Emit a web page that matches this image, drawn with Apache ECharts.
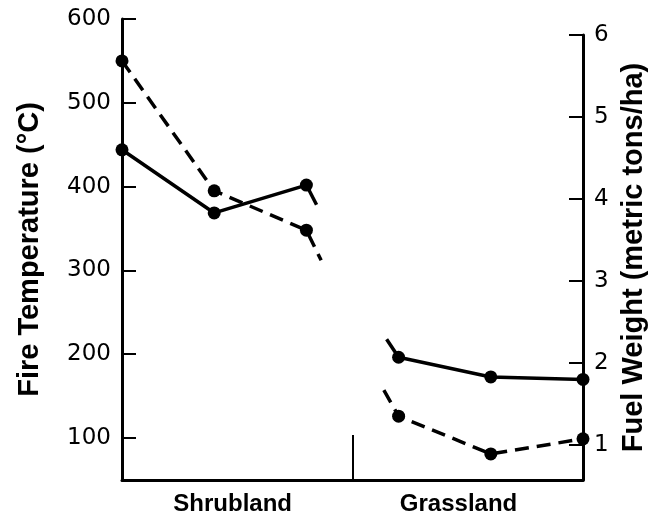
<!DOCTYPE html>
<html>
<head>
<meta charset="utf-8">
<script src="https://cdn.jsdelivr.net/npm/echarts@6/dist/echarts.min.js"></script>
<style>
html,body{margin:0;padding:0;background:#fff;}
#chart{width:662px;height:523px;}
</style>
</head>
<body>
<div id="chart"></div>
<script>
// ---- data ----
const categories = ['Shrubland', 'Grassland'];
const siteX = [0, 1, 2, 3, 4, 5];                        // three sites per vegetation type
const fireTemperature = [550, 395, 348, 126, 81, 99];    // °C (dashed)
const fuelWeight = [4.6, 3.83, 4.17, 2.07, 1.83, 1.80];  // metric tons/ha (solid)
const fireTempBreaks = [[2.16, 312], [2.84, 157]];        // cut-off line ends
const fuelWeightBreaks = [[2.11, 3.93], [2.87, 2.29]];
const tempRange = [100, 600, 100];   // first tick, last tick, step
const fuelRange = [1, 6, 1];

// ---- build series data ----
function buildData(vals, breaks) {
  const d = [];
  for (let i = 0; i < 3; i++) d.push([siteX[i], vals[i]]);
  d.push({ value: breaks[0], symbol: 'none' });
  d.push([2.5, '-']);
  d.push({ value: breaks[1], symbol: 'none' });
  for (let i = 3; i < 6; i++) d.push([siteX[i], vals[i]]);
  return d;
}

const labelPos = [1.2, 3.65];
const dividerPos = [2.5];

const chart = echarts.init(document.getElementById('chart'), null, { renderer: 'canvas' });
const black = '#000';
const tickFont = { color: black, fontFamily: 'DejaVu Sans', fontSize: 23 };
const nameFont = { color: black, fontFamily: 'Liberation Sans', fontWeight: 'bold', fontSize: 29 };
function lineOnly() {
  return {
    splitLine: { show: false }, axisTick: { show: false }, axisLabel: { show: false },
    axisLine: { show: true, onZero: false, lineStyle: { color: black, width: 3 } }
  };
}
function ticksOnly() {
  return {
    splitLine: { show: false },
    axisLine: { show: false, onZero: false },
    axisTick: { show: true, inside: true, length: 14, lineStyle: { color: black, width: 2 } },
    axisLabel: Object.assign({ margin: 11 }, tickFont)
  };
}
const hiddenX = (g) => ({ type: 'value', gridIndex: g, min: 0, max: 5, show: false, axisLine: { onZero: false } });

chart.setOption({
  animation: false,
  backgroundColor: '#fff',
  grid: [
    { left: 122, right: 79, top: 19, bottom: 43, outerBoundsMode: 'none' },  // frame left + bottom
    { left: 122, right: 79, top: 19, bottom: 85, outerBoundsMode: 'none' },  // temperature scale
    { left: 122, right: 79, top: 35, bottom: 43, outerBoundsMode: 'none' },  // frame right
    { left: 122, right: 79, top: 35, bottom: 78, outerBoundsMode: 'none' }   // fuel scale
  ],
  xAxis: [
    {
      type: 'value', gridIndex: 0, min: 0, max: 5,
      splitLine: { show: false },
      axisLine: { show: true, onZero: false, lineStyle: { color: black, width: 3 } },
      axisTick: { show: true, inside: true, length: 45, customValues: dividerPos, lineStyle: { color: black, width: 2 } },
      axisLabel: {
        show: true, customValues: labelPos, margin: 12,
        color: black, fontFamily: 'Liberation Sans', fontWeight: 'bold', fontSize: 24,
        formatter: function (v) { return categories[labelPos.indexOf(v)] || ''; }
      }
    },
    hiddenX(1), hiddenX(2), hiddenX(3)
  ],
  yAxis: [
    Object.assign({
      type: 'value', gridIndex: 0, position: 'left', min: 0, max: 1,
      name: 'Fire Temperature (°C)', nameLocation: 'middle', nameRotate: 90, nameGap: 78,
      nameTextStyle: nameFont
    }, lineOnly()),
    Object.assign({
      type: 'value', gridIndex: 1, position: 'left',
      min: tempRange[0], max: tempRange[1], interval: tempRange[2]
    }, ticksOnly()),
    Object.assign({
      type: 'value', gridIndex: 2, position: 'right', min: 0, max: 1,
      name: 'Fuel Weight (metric tons/ha)', nameLocation: 'middle', nameRotate: 90, nameGap: 36,
      nameTextStyle: nameFont
    }, lineOnly()),
    Object.assign({
      type: 'value', gridIndex: 3, position: 'right',
      min: fuelRange[0], max: fuelRange[1], interval: fuelRange[2]
    }, ticksOnly())
  ],
  series: [
    {
      name: 'Fire Temperature', type: 'line', xAxisIndex: 1, yAxisIndex: 1,
      data: buildData(fireTemperature, fireTempBreaks),
      connectNulls: false, clip: false,
      symbol: 'circle', symbolSize: 13,
      itemStyle: { color: black },
      lineStyle: { color: black, width: 3.5, type: [14, 8] }
    },
    {
      name: 'Fuel Weight', type: 'line', xAxisIndex: 3, yAxisIndex: 3,
      data: buildData(fuelWeight, fuelWeightBreaks),
      connectNulls: false, clip: false,
      symbol: 'circle', symbolSize: 13,
      itemStyle: { color: black },
      lineStyle: { color: black, width: 3.5, type: 'solid' }
    }
  ]
});
</script>
</body>
</html>
